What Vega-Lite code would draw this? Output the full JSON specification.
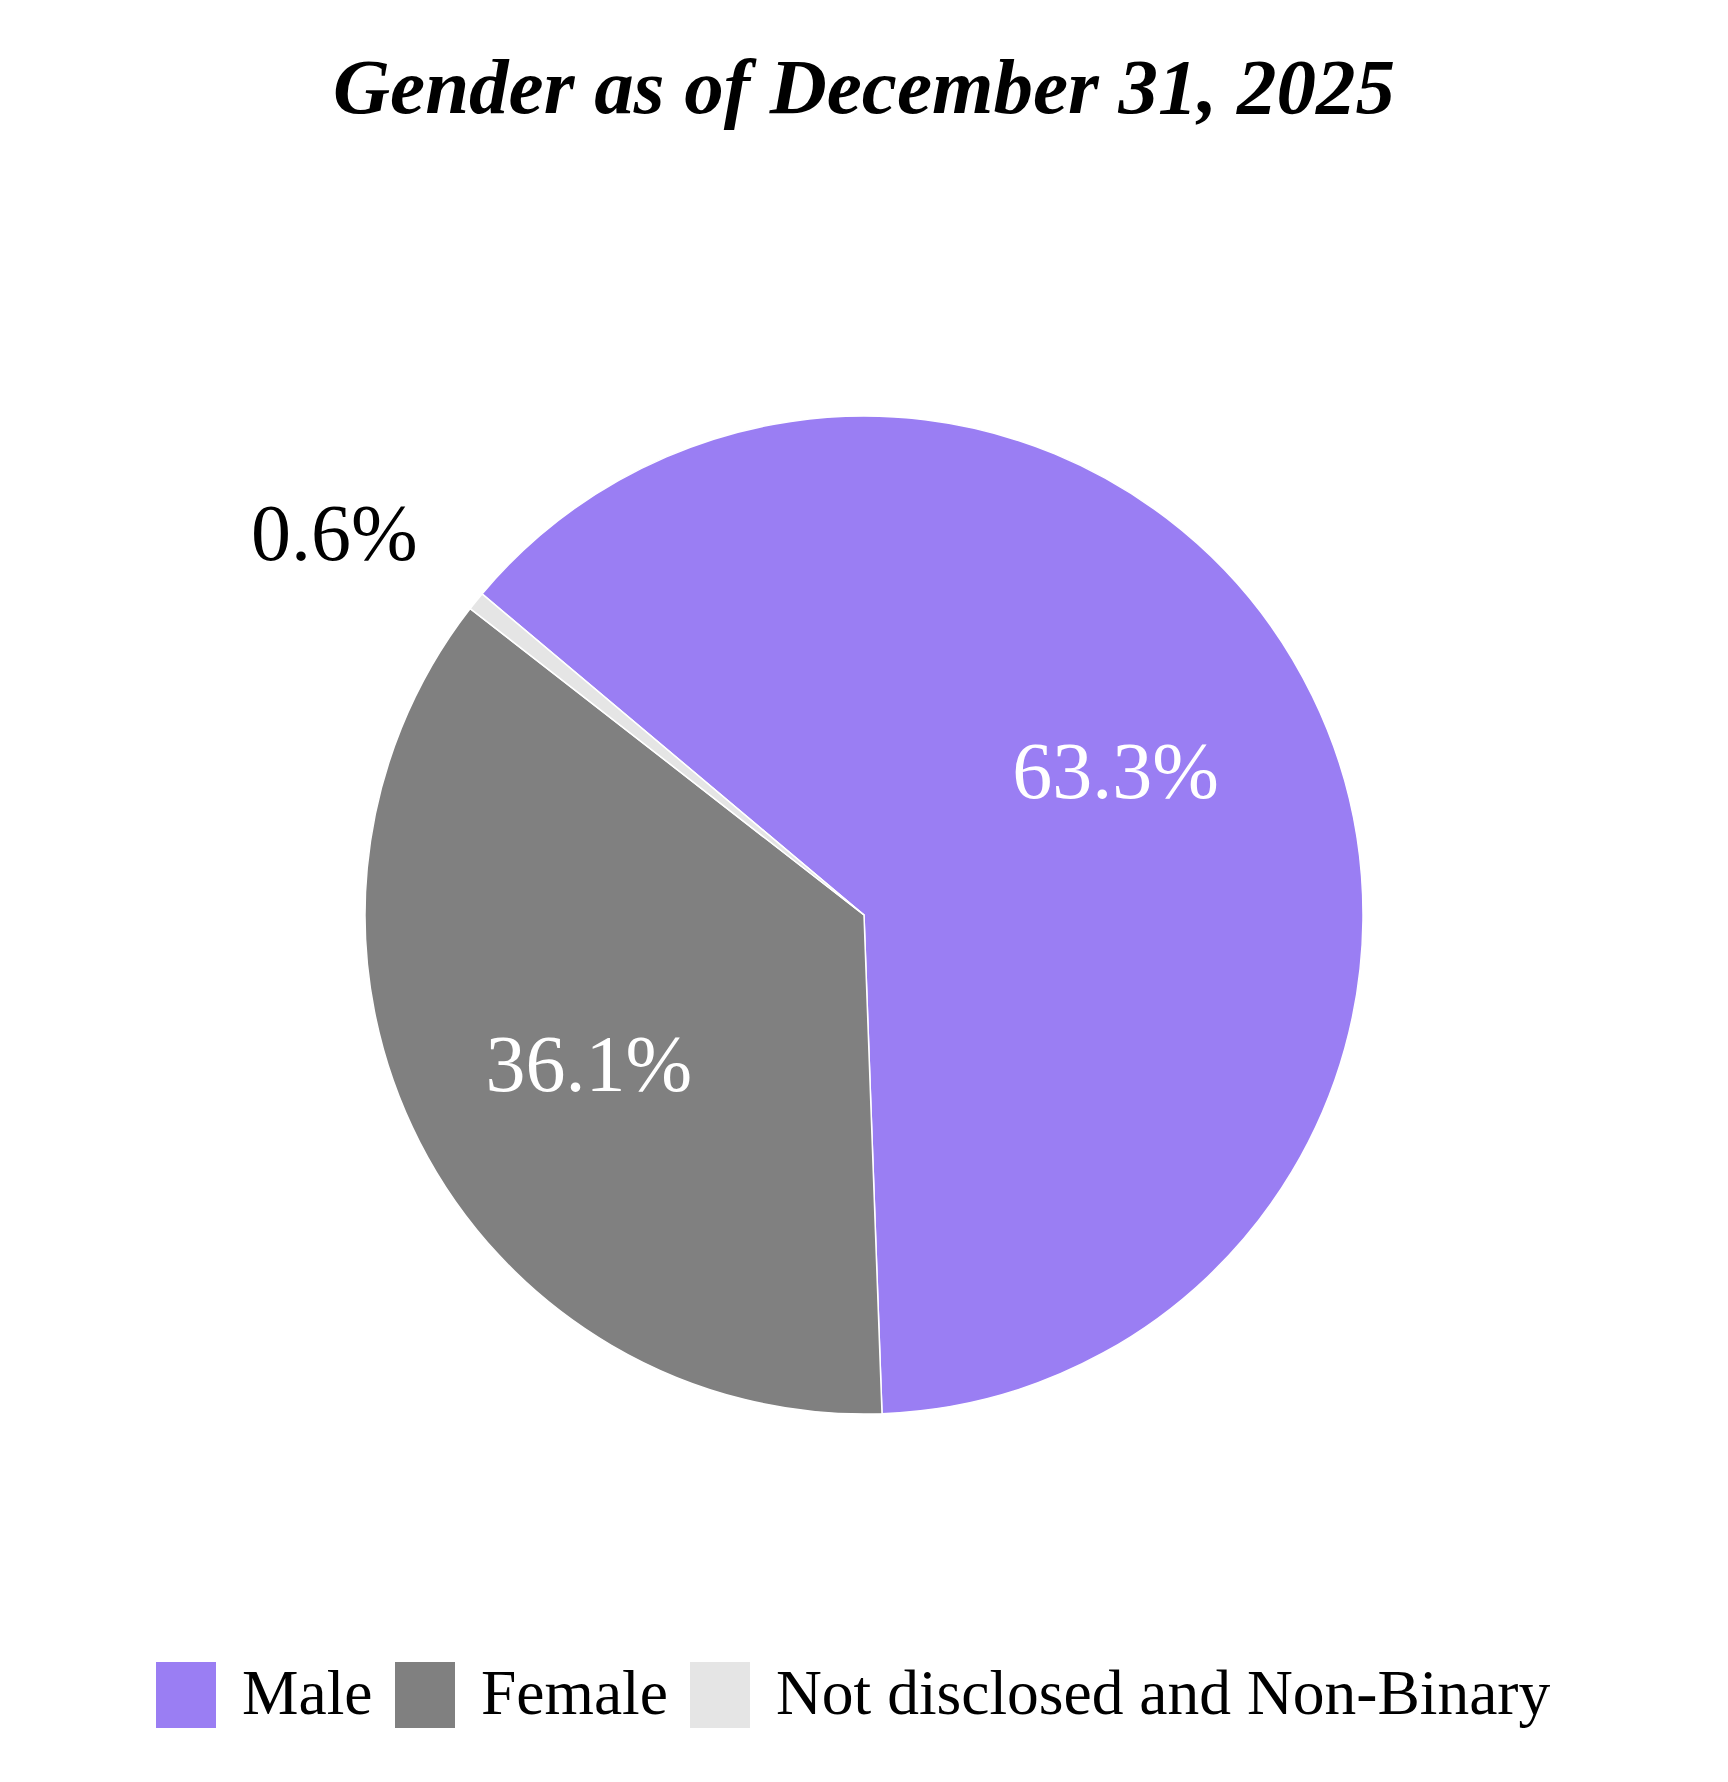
{
  "$schema": "https://vega.github.io/schema/vega-lite/v6.json",
  "autosize": {"type": "none"},
  "width": 998,
  "height": 998,
  "padding": {"left": 365, "top": 416, "right": 365, "bottom": 368},
  "background": "white",
  "config": {"view": {"stroke": null}, "font": "Liberation Serif"},
  "title": {
    "text": "Gender as of December 31, 2025",
    "font": "Liberation Serif",
    "fontSize": 79,
    "fontWeight": "bold",
    "fontStyle": "italic",
    "color": "black",
    "anchor": "middle",
    "offset": 283
  },
  "data": {
    "values": [
      {"gender": "Male", "value": 63.3, "label": "63.3%", "ord": 1},
      {"gender": "Female", "value": 36.1, "label": "36.1%", "ord": 2},
      {"gender": "Not disclosed and Non-Binary", "value": 0.6, "label": "0.6%", "ord": 3}
    ]
  },
  "encoding": {
    "theta": {"field": "value", "type": "quantitative", "stack": true, "scale": {"range": [-0.8718, 5.4114]}},
    "order": {"field": "ord", "type": "quantitative", "sort": "ascending"}
  },
  "layer": [
    {
      "mark": {"type": "arc", "stroke": "white", "strokeWidth": 1.5},
      "encoding": {
        "color": {
          "field": "gender",
          "type": "nominal",
          "scale": {
            "domain": ["Male", "Female", "Not disclosed and Non-Binary"],
            "range": ["#9a7ef3", "#808080", "#e5e5e5"]
          },
          "legend": {
            "title": null,
            "orient": "none",
            "direction": "horizontal",
            "legendX": -212,
            "legendY": 1246,
            "symbolType": "M-0.909,-1 H0.909 V1 H-0.909 Z",
            "symbolSize": 4356,
            "symbolStrokeWidth": 0,
            "symbolOpacity": 1,
            "labelFont": "Liberation Serif",
            "labelFontSize": 63.5,
            "labelColor": "black",
            "labelOffset": 23,
            "labelLimit": 1000,
            "columnPadding": 19
          }
        }
      }
    },
    {
      "mark": {"type": "text", "radius": 300, "dx": -18, "dy": -9, "fill": "white", "fontSize": 80, "font": "Liberation Serif", "baseline": "middle", "align": "center"},
      "encoding": {
        "detail": {"field": "gender", "type": "nominal"},
        "text": {
          "condition": {"test": "datum.gender !== 'Male'", "value": ""},
          "field": "label", "type": "nominal"
        }
      }
    },
    {
      "mark": {"type": "text", "radius": 300, "dx": -8, "dy": 15, "fill": "white", "fontSize": 80, "font": "Liberation Serif", "baseline": "middle", "align": "center"},
      "encoding": {
        "detail": {"field": "gender", "type": "nominal"},
        "text": {
          "condition": {"test": "datum.gender !== 'Female'", "value": ""},
          "field": "label", "type": "nominal"
        }
      }
    },
    {
      "mark": {"type": "text", "radius": 653, "dx": -22, "dy": 32, "fill": "black", "fontSize": 80, "font": "Liberation Serif", "baseline": "middle", "align": "center"},
      "encoding": {
        "detail": {"field": "gender", "type": "nominal"},
        "text": {
          "condition": {"test": "datum.gender !== 'Not disclosed and Non-Binary'", "value": ""},
          "field": "label", "type": "nominal"
        }
      }
    }
  ]
}
